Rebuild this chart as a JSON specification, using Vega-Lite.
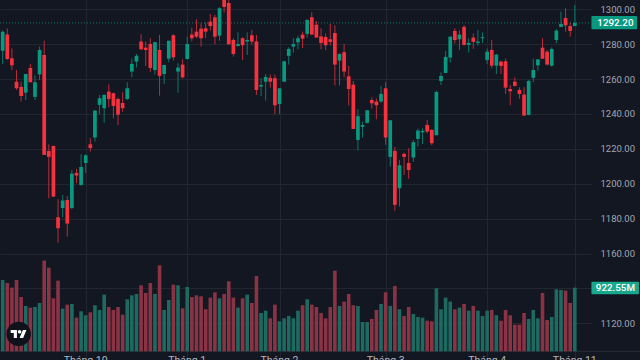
{"$schema":"https://vega.github.io/schema/vega-lite/v6.json","width":591,"height":360,"autosize":{"type":"none"},"padding":{"left":0,"top":0,"bottom":0,"right":49},"background":"#131722","view":{"stroke":null},"config":{"font":"Roboto","scale":{"continuousPadding":0}},"resolve":{"scale":{"y":"independent","color":"independent"}},
"datasets":{"candles":[
{"i":0,"o":1276.3,"h":1287.8,"l":1268.7,"c":1287.2,"v":1034,"dir":"up"},
{"i":1,"o":1285.5,"h":1289.1,"l":1271.0,"c":1271.5,"v":990,"dir":"down"},
{"i":2,"o":1271.9,"h":1277.6,"l":1265.2,"c":1267.9,"v":923,"dir":"down"},
{"i":3,"o":1258.5,"h":1265.2,"l":1253.8,"c":1254.7,"v":1034,"dir":"down"},
{"i":4,"o":1255.5,"h":1258.5,"l":1247.1,"c":1250.3,"v":787,"dir":"down"},
{"i":5,"o":1252.2,"h":1262.9,"l":1248.0,"c":1262.9,"v":657,"dir":"up"},
{"i":6,"o":1266.4,"h":1268.7,"l":1258.2,"c":1258.2,"v":633,"dir":"down"},
{"i":7,"o":1249.8,"h":1262.2,"l":1248.0,"c":1258.2,"v":642,"dir":"up"},
{"i":8,"o":1262.7,"h":1278.6,"l":1259.5,"c":1276.7,"v":700,"dir":"up"},
{"i":9,"o":1273.8,"h":1282.0,"l":1216.5,"c":1216.5,"v":1314,"dir":"down"},
{"i":10,"o":1218.8,"h":1222.6,"l":1191.7,"c":1215.4,"v":1212,"dir":"down"},
{"i":11,"o":1221.7,"h":1221.7,"l":1192.6,"c":1192.6,"v":768,"dir":"down"},
{"i":12,"o":1180.8,"h":1191.1,"l":1166.3,"c":1174.5,"v":1024,"dir":"down"},
{"i":13,"o":1186.1,"h":1193.6,"l":1180.8,"c":1190.4,"v":618,"dir":"up"},
{"i":14,"o":1190.7,"h":1193.0,"l":1169.7,"c":1177.2,"v":676,"dir":"down"},
{"i":15,"o":1186.1,"h":1207.9,"l":1185.4,"c":1205.8,"v":686,"dir":"up"},
{"i":16,"o":1206.2,"h":1208.5,"l":1200.3,"c":1204.7,"v":488,"dir":"down"},
{"i":17,"o":1199.3,"h":1216.9,"l":1198.9,"c":1209.6,"v":580,"dir":"up"},
{"i":18,"o":1211.9,"h":1216.9,"l":1206.2,"c":1216.3,"v":522,"dir":"up"},
{"i":19,"o":1222.6,"h":1226.1,"l":1218.4,"c":1220.5,"v":565,"dir":"down"},
{"i":20,"o":1226.5,"h":1242.3,"l":1224.2,"c":1241.9,"v":667,"dir":"up"},
{"i":21,"o":1245.2,"h":1250.9,"l":1240.0,"c":1249.0,"v":599,"dir":"up"},
{"i":22,"o":1243.3,"h":1251.3,"l":1235.0,"c":1250.9,"v":821,"dir":"up"},
{"i":23,"o":1252.8,"h":1257.0,"l":1243.8,"c":1248.6,"v":642,"dir":"down"},
{"i":24,"o":1251.9,"h":1252.2,"l":1237.5,"c":1244.6,"v":599,"dir":"down"},
{"i":25,"o":1248.6,"h":1249.4,"l":1233.7,"c":1239.6,"v":642,"dir":"down"},
{"i":26,"o":1246.3,"h":1252.4,"l":1241.2,"c":1243.3,"v":531,"dir":"down"},
{"i":27,"o":1248.6,"h":1258.2,"l":1248.0,"c":1254.7,"v":753,"dir":"up"},
{"i":28,"o":1264.3,"h":1271.9,"l":1261.0,"c":1268.7,"v":811,"dir":"up"},
{"i":29,"o":1270.0,"h":1274.4,"l":1266.6,"c":1273.3,"v":831,"dir":"up"},
{"i":30,"o":1281.5,"h":1285.7,"l":1276.7,"c":1277.1,"v":956,"dir":"down"},
{"i":31,"o":1278.0,"h":1281.5,"l":1267.5,"c":1276.7,"v":845,"dir":"down"},
{"i":32,"o":1280.1,"h":1283.4,"l":1264.1,"c":1266.4,"v":990,"dir":"down"},
{"i":33,"o":1265.2,"h":1281.5,"l":1262.6,"c":1281.1,"v":831,"dir":"up"},
{"i":34,"o":1276.7,"h":1285.3,"l":1250.5,"c":1261.8,"v":1246,"dir":"down"},
{"i":35,"o":1262.9,"h":1268.1,"l":1257.2,"c":1268.1,"v":599,"dir":"up"},
{"i":36,"o":1271.7,"h":1282.0,"l":1269.6,"c":1282.0,"v":744,"dir":"up"},
{"i":37,"o":1285.1,"h":1285.7,"l":1270.6,"c":1272.5,"v":966,"dir":"down"},
{"i":38,"o":1264.3,"h":1269.1,"l":1252.2,"c":1266.6,"v":956,"dir":"up"},
{"i":39,"o":1268.3,"h":1271.3,"l":1260.3,"c":1261.0,"v":623,"dir":"down"},
{"i":40,"o":1271.5,"h":1284.3,"l":1271.3,"c":1280.1,"v":932,"dir":"up"},
{"i":41,"o":1285.5,"h":1289.5,"l":1281.5,"c":1283.4,"v":787,"dir":"down"},
{"i":42,"o":1287.2,"h":1294.3,"l":1283.4,"c":1284.3,"v":811,"dir":"down"},
{"i":43,"o":1288.9,"h":1292.0,"l":1278.6,"c":1283.4,"v":797,"dir":"down"},
{"i":44,"o":1289.1,"h":1292.4,"l":1283.4,"c":1287.2,"v":609,"dir":"down"},
{"i":45,"o":1292.9,"h":1297.3,"l":1287.8,"c":1290.4,"v":778,"dir":"down"},
{"i":46,"o":1295.4,"h":1296.8,"l":1279.9,"c":1284.3,"v":855,"dir":"down"},
{"i":47,"o":1284.9,"h":1301.1,"l":1282.0,"c":1300.6,"v":768,"dir":"up"},
{"i":48,"o":1306.5,"h":1307.0,"l":1298.1,"c":1301.3,"v":831,"dir":"down"},
{"i":49,"o":1303.6,"h":1306.0,"l":1279.9,"c":1279.9,"v":1014,"dir":"down"},
{"i":50,"o":1282.4,"h":1283.4,"l":1272.9,"c":1274.4,"v":778,"dir":"down"},
{"i":51,"o":1279.0,"h":1286.8,"l":1278.6,"c":1280.1,"v":633,"dir":"up"},
{"i":52,"o":1283.4,"h":1284.0,"l":1271.0,"c":1279.4,"v":768,"dir":"down"},
{"i":53,"o":1281.5,"h":1286.8,"l":1273.8,"c":1282.4,"v":821,"dir":"up"},
{"i":54,"o":1285.1,"h":1288.2,"l":1279.8,"c":1281.5,"v":700,"dir":"down"},
{"i":55,"o":1281.5,"h":1285.3,"l":1250.9,"c":1253.8,"v":1092,"dir":"down"},
{"i":56,"o":1255.7,"h":1260.5,"l":1250.3,"c":1256.6,"v":555,"dir":"up"},
{"i":57,"o":1258.5,"h":1262.9,"l":1247.7,"c":1261.2,"v":589,"dir":"up"},
{"i":58,"o":1260.7,"h":1262.6,"l":1255.1,"c":1258.5,"v":478,"dir":"down"},
{"i":59,"o":1260.5,"h":1262.6,"l":1240.0,"c":1245.0,"v":676,"dir":"down"},
{"i":60,"o":1245.7,"h":1254.7,"l":1240.0,"c":1254.7,"v":435,"dir":"up"},
{"i":61,"o":1258.5,"h":1270.6,"l":1258.5,"c":1270.2,"v":478,"dir":"up"},
{"i":62,"o":1273.3,"h":1278.2,"l":1268.3,"c":1277.3,"v":512,"dir":"up"},
{"i":63,"o":1278.6,"h":1283.4,"l":1275.2,"c":1280.1,"v":478,"dir":"up"},
{"i":64,"o":1281.1,"h":1284.9,"l":1277.1,"c":1283.4,"v":589,"dir":"up"},
{"i":65,"o":1285.5,"h":1287.2,"l":1277.8,"c":1283.2,"v":667,"dir":"down"},
{"i":66,"o":1285.9,"h":1294.3,"l":1283.8,"c":1293.9,"v":753,"dir":"up"},
{"i":67,"o":1295.4,"h":1298.3,"l":1285.5,"c":1285.5,"v":676,"dir":"down"},
{"i":68,"o":1291.2,"h":1293.3,"l":1283.8,"c":1283.8,"v":642,"dir":"down"},
{"i":69,"o":1284.5,"h":1289.1,"l":1277.1,"c":1280.7,"v":555,"dir":"down"},
{"i":70,"o":1284.1,"h":1286.2,"l":1276.7,"c":1279.4,"v":478,"dir":"down"},
{"i":71,"o":1282.8,"h":1291.6,"l":1279.4,"c":1281.3,"v":642,"dir":"down"},
{"i":72,"o":1286.4,"h":1290.8,"l":1256.4,"c":1268.3,"v":1169,"dir":"down"},
{"i":73,"o":1270.6,"h":1274.8,"l":1256.4,"c":1274.4,"v":657,"dir":"up"},
{"i":74,"o":1275.4,"h":1280.1,"l":1261.0,"c":1264.3,"v":720,"dir":"down"},
{"i":75,"o":1261.6,"h":1267.5,"l":1245.0,"c":1254.3,"v":831,"dir":"down"},
{"i":76,"o":1256.8,"h":1258.9,"l":1231.4,"c":1231.4,"v":667,"dir":"down"},
{"i":77,"o":1225.1,"h":1242.7,"l":1219.0,"c":1238.7,"v":657,"dir":"up"},
{"i":78,"o":1232.6,"h":1235.6,"l":1226.5,"c":1233.7,"v":425,"dir":"up"},
{"i":79,"o":1234.9,"h":1242.1,"l":1234.5,"c":1242.1,"v":425,"dir":"up"},
{"i":80,"o":1248.0,"h":1249.6,"l":1243.1,"c":1246.1,"v":469,"dir":"down"},
{"i":81,"o":1247.1,"h":1248.8,"l":1237.0,"c":1245.0,"v":599,"dir":"down"},
{"i":82,"o":1247.1,"h":1256.1,"l":1246.5,"c":1251.5,"v":686,"dir":"up"},
{"i":83,"o":1254.7,"h":1258.4,"l":1222.3,"c":1226.5,"v":855,"dir":"down"},
{"i":84,"o":1215.4,"h":1236.4,"l":1209.8,"c":1236.4,"v":657,"dir":"up"},
{"i":85,"o":1218.8,"h":1221.1,"l":1184.6,"c":1187.9,"v":947,"dir":"down"},
{"i":86,"o":1197.4,"h":1213.7,"l":1186.9,"c":1210.6,"v":609,"dir":"up"},
{"i":87,"o":1217.1,"h":1217.9,"l":1205.1,"c":1215.4,"v":512,"dir":"down"},
{"i":88,"o":1211.9,"h":1220.3,"l":1202.8,"c":1207.9,"v":642,"dir":"down"},
{"i":89,"o":1215.0,"h":1225.1,"l":1212.5,"c":1223.8,"v":541,"dir":"up"},
{"i":90,"o":1225.7,"h":1231.6,"l":1221.3,"c":1230.5,"v":497,"dir":"up"},
{"i":91,"o":1229.5,"h":1231.8,"l":1222.8,"c":1230.3,"v":488,"dir":"up"},
{"i":92,"o":1233.7,"h":1236.6,"l":1228.9,"c":1229.9,"v":444,"dir":"down"},
{"i":93,"o":1230.9,"h":1231.2,"l":1222.1,"c":1223.2,"v":435,"dir":"down"},
{"i":94,"o":1227.8,"h":1253.4,"l":1227.8,"c":1252.6,"v":913,"dir":"up"},
{"i":95,"o":1258.9,"h":1263.9,"l":1256.6,"c":1261.8,"v":609,"dir":"up"},
{"i":96,"o":1263.5,"h":1276.1,"l":1263.5,"c":1272.7,"v":778,"dir":"up"},
{"i":97,"o":1272.3,"h":1284.7,"l":1269.4,"c":1284.3,"v":720,"dir":"up"},
{"i":98,"o":1287.6,"h":1289.1,"l":1280.5,"c":1282.4,"v":609,"dir":"down"},
{"i":99,"o":1282.8,"h":1287.8,"l":1276.7,"c":1285.5,"v":633,"dir":"up"},
{"i":100,"o":1289.9,"h":1291.0,"l":1279.2,"c":1279.6,"v":686,"dir":"down"},
{"i":101,"o":1279.6,"h":1283.4,"l":1275.2,"c":1280.7,"v":589,"dir":"up"},
{"i":102,"o":1283.8,"h":1286.1,"l":1277.3,"c":1281.3,"v":657,"dir":"down"},
{"i":103,"o":1280.7,"h":1288.2,"l":1279.2,"c":1281.5,"v":589,"dir":"up"},
{"i":104,"o":1283.4,"h":1286.8,"l":1280.7,"c":1284.0,"v":512,"dir":"up"},
{"i":105,"o":1271.0,"h":1277.5,"l":1268.7,"c":1275.7,"v":589,"dir":"up"},
{"i":106,"o":1276.7,"h":1282.4,"l":1266.2,"c":1267.7,"v":599,"dir":"down"},
{"i":107,"o":1267.7,"h":1274.4,"l":1262.9,"c":1274.0,"v":522,"dir":"up"},
{"i":108,"o":1270.0,"h":1270.6,"l":1262.9,"c":1267.5,"v":444,"dir":"down"},
{"i":109,"o":1270.2,"h":1271.7,"l":1251.5,"c":1255.1,"v":599,"dir":"down"},
{"i":110,"o":1254.3,"h":1256.6,"l":1245.0,"c":1253.0,"v":522,"dir":"down"},
{"i":111,"o":1258.5,"h":1261.0,"l":1255.7,"c":1256.1,"v":386,"dir":"down"},
{"i":112,"o":1253.8,"h":1255.3,"l":1248.8,"c":1251.5,"v":386,"dir":"down"},
{"i":113,"o":1251.1,"h":1255.3,"l":1238.9,"c":1239.1,"v":555,"dir":"down"},
{"i":114,"o":1239.4,"h":1259.5,"l":1239.2,"c":1258.9,"v":469,"dir":"up"},
{"i":115,"o":1260.7,"h":1271.7,"l":1258.2,"c":1265.2,"v":599,"dir":"up"},
{"i":116,"o":1267.9,"h":1271.3,"l":1264.8,"c":1271.3,"v":478,"dir":"up"},
{"i":117,"o":1278.0,"h":1283.4,"l":1271.7,"c":1271.7,"v":845,"dir":"down"},
{"i":118,"o":1275.7,"h":1276.7,"l":1267.9,"c":1268.3,"v":454,"dir":"down"},
{"i":119,"o":1267.7,"h":1278.2,"l":1267.1,"c":1277.3,"v":497,"dir":"up"},
{"i":120,"o":1282.4,"h":1288.5,"l":1280.5,"c":1287.8,"v":898,"dir":"up"},
{"i":121,"o":1289.9,"h":1298.7,"l":1289.7,"c":1291.6,"v":889,"dir":"up"},
{"i":122,"o":1295.0,"h":1300.6,"l":1287.2,"c":1290.8,"v":879,"dir":"down"},
{"i":123,"o":1290.4,"h":1292.4,"l":1284.3,"c":1287.6,"v":700,"dir":"down"},
{"i":124,"o":1290.4,"h":1302.5,"l":1290.4,"c":1292.2,"v":922.55,"dir":"up"}
],
"last":[{"start":-0.58,"end":127.5,"price":1292.2}],
"months":[{"i":18,"price":1101.0,"label":"Tháng 10"},{"i":40,"price":1101.0,"label":"Tháng 1"},{"i":60,"price":1101.0,"label":"Tháng 2"},{"i":83,"price":1101.0,"label":"Tháng 3"},{"i":105,"price":1101.0,"label":"Tháng 4"},{"i":124,"price":1101.0,"label":"Tháng 11"}],
"priceTag":[{"start":127.6,"end":137.5,"mid":132.8,"top":1296.16,"bottom":1288.53,"price":1292.2,"label":"1292.20"}],
"volumeTag":[{"start":127.6,"end":137.9,"mid":132.8,"top":1008,"bottom":826,"vol":922.55,"label":"922.55M"}],
"logo":[{"i":3.47,"price":1113.9}],
"base":[{"start":-0.58,"end":138.5,"vol":0}]},
"layer":[
{"data":{"name":"last"},"layer":[
{"mark":{"type":"rule","color":"#089981","strokeDash":[1,2],"strokeWidth":1,"opacity":0.8},
"encoding":{"x":{"field":"start","type":"quantitative","scale":{"domain":[-0.5787,127.51],"nice":false,"zero":false,"padding":0},"axis":{"values":[18,40,60,83,105,124],"grid":true,"gridColor":"#222631","gridWidth":1,"labels":false,"ticks":false,"domain":false,"title":null}},"x2":{"field":"end"},
"y":{"field":"price","type":"quantitative","scale":{"domain":[1098.95,1305.33],"nice":false,"zero":false},"axis":{"orient":"right","values":[1120,1140,1160,1180,1200,1220,1240,1260,1280,1300],"labelExpr":"datum.value==1140?'':format(datum.value,'.2f')","grid":true,"gridColor":"#222631","gridWidth":1,"domain":false,"ticks":false,"labelColor":"#a3a6af","labelFontSize":9.5,"labelFont":"Roboto","labelPadding":9,"labelOverlap":false,"title":null,"labelBound":false,"labelFlush":false}}}}
]},
{"data":{"name":"candles"},"mark":{"type":"rule","strokeWidth":1,"opacity":0.75},"encoding":{"x":{"field":"i","type":"quantitative"},"y":{"field":"l","type":"quantitative","scale":{"domain":[1098.95,1305.33],"nice":false,"zero":false},"axis":null},"y2":{"field":"h"},"color":{"field":"dir","type":"nominal","scale":{"domain":["up","down"],"range":["#089981","#f7323f"]},"legend":null}}},
{"data":{"name":"candles"},"mark":{"type":"bar","size":3.7},"encoding":{"x":{"field":"i","type":"quantitative"},"y":{"field":"o","type":"quantitative","scale":{"domain":[1098.95,1305.33],"nice":false,"zero":false,"padding":0},"axis":null},"y2":{"field":"c"},"color":{"field":"dir","type":"nominal","scale":{"domain":["up","down"],"range":["#089981","#f7323f"]},"legend":null}}},
{"data":{"name":"base"},"mark":{"type":"rule","color":"#2a2e39","strokeWidth":1},"encoding":{"x":{"field":"start","type":"quantitative"},"x2":{"field":"end"},"y":{"field":"vol","type":"quantitative","scale":{"domain":[-126,5090],"nice":false,"zero":false},"axis":null}}},
{"data":{"name":"candles"},"mark":{"type":"bar","size":3.6,"opacity":1},"encoding":{"x":{"field":"i","type":"quantitative"},"y":{"field":"v","type":"quantitative","scale":{"domain":[-126,5090],"nice":false,"zero":false,"padding":0},"axis":null},"y2":{"datum":0},"color":{"field":"dir","type":"nominal","scale":{"domain":["up","down"],"range":["#1d6a60","#8a3344"]},"legend":null}}},
{"data":{"name":"logo"},"mark":{"type":"point","shape":"circle","filled":true,"size":600,"color":"#0f121a","opacity":1},"encoding":{"x":{"field":"i","type":"quantitative"},"y":{"field":"price","type":"quantitative","scale":{"domain":[1098.95,1305.33],"nice":false,"zero":false},"axis":null}}},
{"data":{"name":"logo"},"mark":{"type":"point","shape":"M-0.22 0.5L-0.61 0.5L-0.61 -0.11L-1 -0.11L-1 -0.5L-0.22 -0.5ZM0.556 0.5L0.111 0.5L0.528 -0.5L0.972 -0.5ZM-0.11 -0.278a0.222 0.222 0 1 0 0.444 0a0.222 0.222 0 1 0 -0.444 0Z","filled":true,"size":256,"color":"#ffffff","opacity":1},"encoding":{"x":{"field":"i","type":"quantitative"},"y":{"field":"price","type":"quantitative","scale":{"domain":[1098.95,1305.33],"nice":false,"zero":false},"axis":null}}},
{"data":{"name":"months"},"mark":{"type":"text","baseline":"top","align":"center","fontSize":10.5,"font":"Roboto","color":"#b2b5be"},"encoding":{"x":{"field":"i","type":"quantitative"},"y":{"field":"price","type":"quantitative","scale":{"domain":[1098.95,1305.33],"nice":false,"zero":false},"axis":null},"text":{"field":"label"}}},
{"data":{"name":"priceTag"},"mark":{"type":"rect","color":"#089981","cornerRadius":1},"encoding":{"x":{"field":"start","type":"quantitative"},"x2":{"field":"end"},"y":{"field":"bottom","type":"quantitative","scale":{"domain":[1098.95,1305.33],"nice":false,"zero":false,"padding":0},"axis":null},"y2":{"field":"top"}}},
{"data":{"name":"priceTag"},"mark":{"type":"text","align":"center","baseline":"middle","fontSize":9.8,"fontWeight":500,"font":"Roboto","color":"#ffffff"},"encoding":{"x":{"field":"mid","type":"quantitative"},"y":{"field":"price","type":"quantitative","scale":{"domain":[1098.95,1305.33],"nice":false,"zero":false},"axis":null},"text":{"field":"label"}}},
{"data":{"name":"volumeTag"},"mark":{"type":"rect","color":"#1aa88d","cornerRadius":1},"encoding":{"x":{"field":"start","type":"quantitative"},"x2":{"field":"end"},"y":{"field":"bottom","type":"quantitative","scale":{"domain":[-126,5090],"nice":false,"zero":false,"padding":0},"axis":null},"y2":{"field":"top"}}},
{"data":{"name":"volumeTag"},"mark":{"type":"text","align":"center","baseline":"middle","fontSize":9.8,"fontWeight":500,"font":"Roboto","color":"#ffffff"},"encoding":{"x":{"field":"mid","type":"quantitative"},"y":{"field":"vol","type":"quantitative","scale":{"domain":[-126,5090],"nice":false,"zero":false},"axis":null},"text":{"field":"label"}}}
]}
